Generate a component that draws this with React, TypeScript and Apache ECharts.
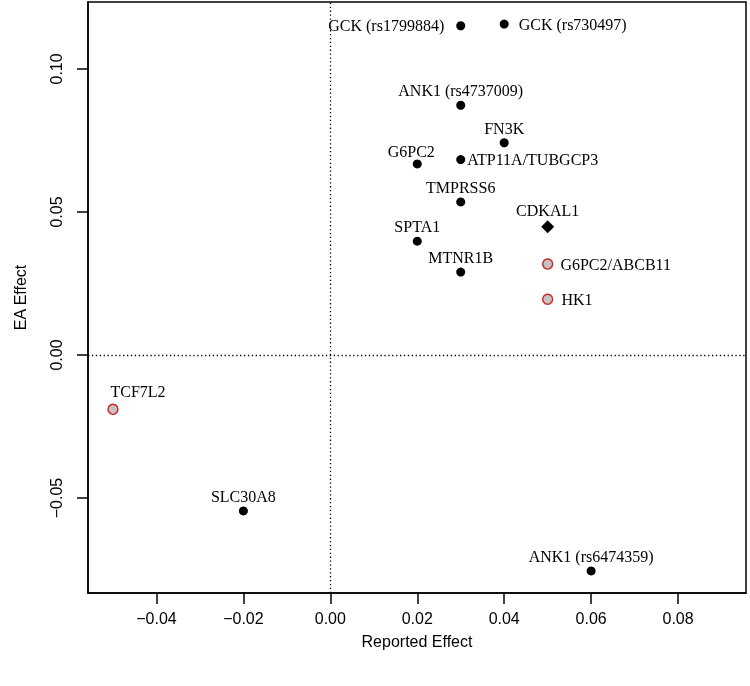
import React, { useEffect, useRef } from "react";
import * as echarts from "echarts";

// ---- data ----
const genes = [
  "GCK (rs1799884)",
  "GCK (rs730497)",
  "ANK1 (rs4737009)",
  "FN3K",
  "G6PC2",
  "ATP11A/TUBGCP3",
  "TMPRSS6",
  "CDKAL1",
  "SPTA1",
  "MTNR1B",
  "G6PC2/ABCB11",
  "HK1",
  "TCF7L2",
  "SLC30A8",
  "ANK1 (rs6474359)",
];
const reportedEffect = [0.03, 0.04, 0.03, 0.04, 0.02, 0.03, 0.03, 0.05, 0.02, 0.03, 0.05, 0.05, -0.05, -0.02, 0.06];
const eaEffect = [0.1151, 0.1157, 0.0873, 0.0742, 0.0668, 0.0683, 0.0535, 0.0448, 0.0398, 0.029, 0.0318, 0.0195, -0.019, -0.0545, -0.0755];
const markerGroup = ["dot", "dot", "dot", "dot", "dot", "dot", "dot", "diamond", "dot", "dot", "ring", "ring", "ring", "dot", "dot"];

const xTicks = [-0.04, -0.02, 0, 0.02, 0.04, 0.06, 0.08];
const yTicks = [-0.05, 0, 0.05, 0.1];

// ---- label placement (layout only) ----
const labelPlacement: Record<string, { position: string; distance: number; offset?: number[] }> = {
  "GCK (rs1799884)": { position: "left", distance: 12 },
  "GCK (rs730497)": { position: "right", distance: 10 },
  "ATP11A/TUBGCP3": { position: "right", distance: 2 },
  "G6PC2/ABCB11": { position: "right", distance: 7 },
  "HK1": { position: "right", distance: 8 },
  "TCF7L2": { position: "top", distance: 4, offset: [25, 0] },
  "G6PC2": { position: "top", distance: 0, offset: [-6, 0] },
};

const fmt = (v: number) => (v < 0 ? "\u2212" : "") + Math.abs(v).toFixed(2);

export default function App() {
  const ref = useRef<HTMLDivElement>(null);
  useEffect(() => {
    if (!ref.current) return;
    const chart = echarts.init(ref.current, null, { renderer: "svg" });

    const styleFor: Record<string, any> = {
      dot: { symbol: "circle", symbolSize: 9, itemStyle: { color: "#000", opacity: 1 } },
      diamond: { symbol: "diamond", symbolSize: 13, itemStyle: { color: "#000", opacity: 1 } },
      ring: {
        symbol: "circle",
        symbolSize: 10,
        itemStyle: { color: "#c4c4c4", borderColor: "#cc2a2a", borderWidth: 1.5, opacity: 1 },
      },
    };

    const makeData = (group: string) =>
      genes
        .map((g, i) => ({ g, i }))
        .filter(({ i }) => markerGroup[i] === group)
        .map(({ g, i }) => {
          const p = labelPlacement[g] || { position: "top", distance: 2 };
          return {
            name: g,
            value: [reportedEffect[i], eaEffect[i]],
            label: {
              show: true,
              position: p.position,
              distance: p.distance,
              offset: p.offset || [0, 0],
            },
          };
        });

    const labelStyle = {
      show: true,
      formatter: "{b}",
      fontFamily: "Liberation Serif",
      fontSize: 16,
      color: "#000",
    };

    const axisFont = { fontFamily: "Liberation Sans", fontSize: 16, color: "#000" };

    chart.setOption({
      animation: false,
      grid: {
        left: 88,
        right: 4,
        top: 2,
        bottom: 93,
        show: true,
        borderColor: "#000",
        borderWidth: 1.5,
        backgroundColor: "transparent",
      },
      xAxis: {
        type: "value",
        min: -0.05575,
        max: 0.09563,
        name: "Reported Effect",
        nameLocation: "middle",
        nameGap: 40,
        nameTextStyle: axisFont,
        axisLine: { show: true, onZero: false, lineStyle: { color: "#000", width: 1.5 } },
        axisTick: { show: true, length: 11, customValues: xTicks, lineStyle: { color: "#000", width: 1.5 } },
        axisLabel: { ...axisFont, margin: 17, customValues: xTicks, formatter: fmt },
        splitLine: { show: false },
      },
      yAxis: {
        type: "value",
        min: -0.0832,
        max: 0.1234,
        name: "EA Effect",
        nameLocation: "middle",
        nameGap: 60,
        nameTextStyle: axisFont,
        axisLine: { show: true, onZero: false, lineStyle: { color: "#000", width: 1.5 } },
        axisTick: { show: true, length: 11, customValues: yTicks, lineStyle: { color: "#000", width: 1.5 } },
        axisLabel: { ...axisFont, margin: 24, rotate: 90, customValues: yTicks, formatter: fmt },
        splitLine: { show: false },
      },
      series: [
        {
          type: "scatter",
          ...styleFor.dot,
          data: makeData("dot"),
          label: labelStyle,
          markLine: {
            silent: true,
            symbol: "none",
            label: { show: false },
            lineStyle: { color: "#000", width: 1.3, type: [1.3, 2.6], opacity: 1 },
            data: [{ xAxis: 0 }, { yAxis: 0 }],
          },
        },
        { type: "scatter", ...styleFor.diamond, data: makeData("diamond"), label: labelStyle },
        { type: "scatter", ...styleFor.ring, data: makeData("ring"), label: labelStyle },
      ],
    });
    return () => chart.dispose();
  }, []);
  return <div ref={ref} style={{ position: "fixed", left: 0, top: 0, width: 750, height: 686 }} />;
}
